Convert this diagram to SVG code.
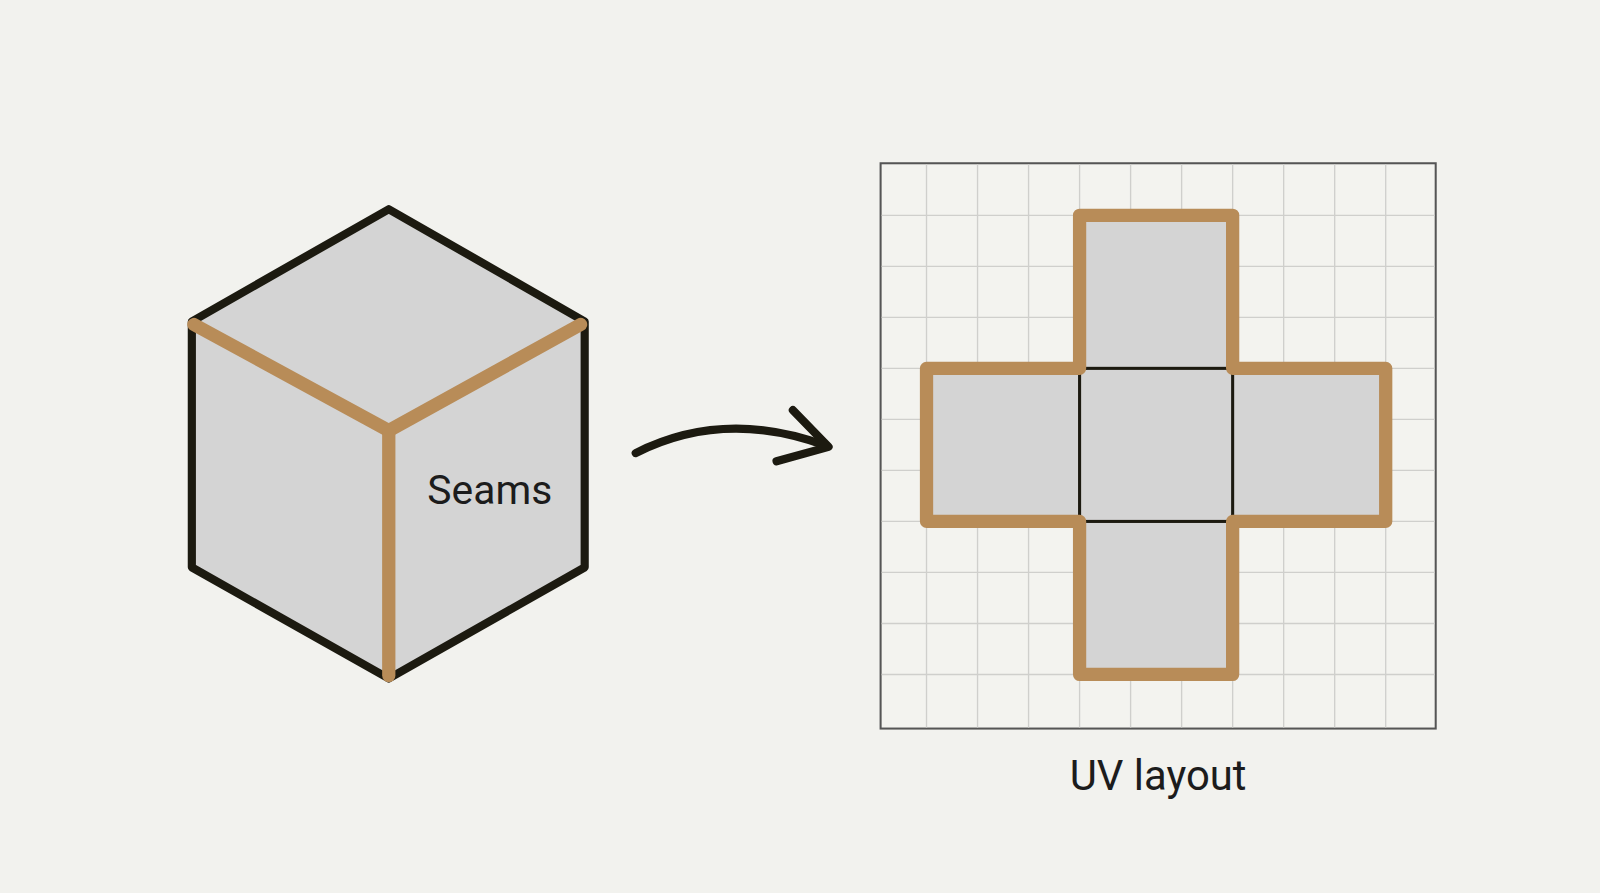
<svg xmlns="http://www.w3.org/2000/svg" width="1600" height="893" viewBox="0 0 1600 893">
<style>
.face{fill:#d4d4d4}
.edge{fill:none;stroke:#1c1a10;stroke-width:8;stroke-linejoin:round;stroke-linecap:round}
.seam{fill:none;stroke:#b88c58;stroke-width:13;stroke-linecap:round;stroke-linejoin:round}
.grid{stroke:#cfcfcc;stroke-width:1.3}
.lbl{font-family:"Roboto","Liberation Sans",sans-serif;fill:#1c1c1c}
</style>
<rect width="1600" height="893" fill="#f2f2ee"/>
<g transform="scale(1.0204)">
<g id="cube">
<polygon class="face" points="381,205 573,315 573,556 381,665 188,556 188,315"/>
<polygon class="edge" points="381,205 573,315 573,556 381,665 188,556 188,315"/>
<polyline class="seam" points="190,318 381,422 569,318"/>
<line class="seam" x1="381" y1="422" x2="381" y2="662"/>
<text class="lbl" x="480" y="494" font-size="40" text-anchor="middle">Seams</text>
</g>
<g id="connectors">
<path class="edge" stroke-width="9" d="M623,444 Q710,400 810,437"/>
<polyline class="edge" stroke-width="9" points="777,402 812,438 761,452"/>
</g>
<g id="uv">
<rect x="863" y="160" width="544" height="554" fill="#f3f3ef" stroke="#555" stroke-width="2"/>
<g class="grid">
<line x1="908" y1="161" x2="908" y2="713"/><line x1="958" y1="161" x2="958" y2="713"/><line x1="1008" y1="161" x2="1008" y2="713"/><line x1="1058" y1="161" x2="1058" y2="713"/><line x1="1108" y1="161" x2="1108" y2="713"/><line x1="1158" y1="161" x2="1158" y2="713"/><line x1="1208" y1="161" x2="1208" y2="713"/><line x1="1258" y1="161" x2="1258" y2="713"/><line x1="1308" y1="161" x2="1308" y2="713"/><line x1="1358" y1="161" x2="1358" y2="713"/>
<line x1="864" y1="211" x2="1406" y2="211"/><line x1="864" y1="261" x2="1406" y2="261"/><line x1="864" y1="311" x2="1406" y2="311"/><line x1="864" y1="361" x2="1406" y2="361"/><line x1="864" y1="411" x2="1406" y2="411"/><line x1="864" y1="461" x2="1406" y2="461"/><line x1="864" y1="511" x2="1406" y2="511"/><line x1="864" y1="561" x2="1406" y2="561"/><line x1="864" y1="611" x2="1406" y2="611"/><line x1="864" y1="661" x2="1406" y2="661"/>
</g>
<polygon class="face" points="1058,211 1208,211 1208,361 1358,361 1358,511 1208,511 1208,661 1058,661 1058,511 908,511 908,361 1058,361"/>
<rect x="1058" y="361" width="150" height="150" fill="none" stroke="#1c1a10" stroke-width="3"/>
<polygon class="seam" stroke-width="9" points="1058,211 1208,211 1208,361 1358,361 1358,511 1208,511 1208,661 1058,661 1058,511 908,511 908,361 1058,361"/>
<text class="lbl" x="1135" y="774" font-size="41" text-anchor="middle">UV layout</text>
</g>
</g>
</svg>
